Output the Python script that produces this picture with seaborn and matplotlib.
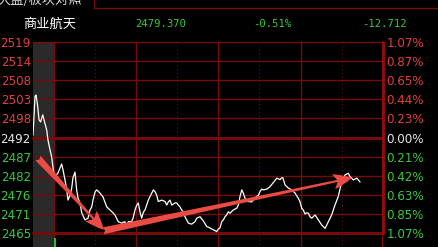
import numpy as np
import pandas as pd
import matplotlib
matplotlib.use("Agg")
import matplotlib.pyplot as plt
import seaborn as sns
from matplotlib.lines import Line2D

# ---------------- data ----------------
# minute index from 09:15 (0) ... 09:30 (15) ... 11:30/13:00 (135) ... 15:00 (255)
minutes = [0, 1.5, 2.2, 3.3, 4.4, 5.5, 7.1, 8.0, 10.0, 10.9, 12.4, 13.6, 14.8, 16.0,
           18.2, 20.9, 21.9, 23.3, 24.6, 25.5, 27.0, 28.2, 29.1, 30.6, 31.8, 32.8,
           34.2, 35.5, 37.9, 40.1, 41.5, 42.8, 43.7, 45.2, 46.4, 48.8, 51.0, 53.7,
           56.1, 58.3, 59.7, 62.1, 64.6, 67.0, 68.3, 69.4, 71.9, 72.9, 74.3, 75.6,
           76.7, 78.1, 79.2, 80.4, 81.6, 84.0, 86.5, 87.7, 88.9, 90.1, 91.3, 93.8,
           96.2, 97.4, 98.6, 99.8, 101.1, 103.5, 104.7, 105.9, 107.1, 108.3, 109.5,
           110.7, 113.2, 115.6, 118.0, 119.3, 121.7, 124.1, 126.6, 127.7, 129.0,
           131.4, 132.6, 133.8, 135.0, 136.2, 137.5, 138.7, 139.9, 141.1, 142.3,
           143.5, 145.9, 148.4, 149.6, 150.8, 152.1, 153.2, 154.5, 155.7, 156.9,
           159.3, 161.7, 163.0, 164.2, 165.4, 166.6, 167.8, 170.3, 172.7, 175.1,
           177.6, 180.0, 181.2, 182.1, 183.6, 186.0, 188.5, 190.9, 193.3, 194.5,
           195.8, 196.9, 198.2, 199.4, 200.6, 201.8, 203.1, 205.5, 207.9, 210.3,
           212.8, 215.2, 217.6, 220.0, 222.4, 224.9, 227.3, 229.7, 230.9, 233.4,
           235.9, 238.3]
prices = [2492.7, 2503.7, 2504.0, 2501.2, 2497.0, 2496.4, 2498.4, 2497.0, 2494.1,
          2491.3, 2488.5, 2486.5, 2482.8, 2480.8, 2482.0, 2484.5, 2482.8, 2480.0,
          2477.2, 2474.3, 2475.7, 2477.7, 2480.6, 2482.2, 2477.2, 2474.9, 2473.5,
          2470.7, 2468.7, 2469.2, 2471.5, 2472.4, 2474.3, 2476.6, 2477.2, 2476.3,
          2475.2, 2472.4, 2471.5, 2470.7, 2470.1, 2468.2, 2467.8, 2468.2, 2466.4,
          2468.2, 2468.2, 2469.2, 2471.5, 2472.9, 2473.5, 2470.7, 2469.2, 2470.9,
          2471.5, 2474.3, 2476.3, 2477.2, 2476.7, 2475.7, 2473.9, 2474.3, 2473.9,
          2472.9, 2473.8, 2474.3, 2472.9, 2473.5, 2473.5, 2472.9, 2472.4, 2471.5,
          2471.0, 2469.6, 2467.8, 2467.5, 2468.2, 2469.2, 2469.6, 2468.4, 2466.8,
          2466.7, 2466.4, 2465.9, 2465.7, 2465.4, 2466.1, 2466.4, 2468.2, 2468.7,
          2469.6, 2470.1, 2471.0, 2470.6, 2471.5, 2472.0, 2472.9, 2475.3, 2477.2,
          2476.3, 2474.8, 2473.9, 2473.9, 2473.8, 2474.9, 2475.3, 2475.7, 2476.7,
          2477.4, 2477.2, 2477.4, 2478.1, 2479.3, 2480.5, 2480.1, 2480.6, 2480.6,
          2478.6, 2477.7, 2477.2, 2476.3, 2474.8, 2473.9, 2472.0, 2471.5, 2470.4,
          2470.7, 2470.6, 2469.6, 2469.2, 2470.1, 2468.7, 2467.3, 2466.3, 2468.2,
          2470.1, 2472.9, 2475.3, 2479.5, 2481.4, 2481.9, 2481.0, 2480.0, 2480.5,
          2479.4]

price_labels = ["2519", "2514", "2508", "2503", "2498", "2492",
                "2487", "2482", "2476", "2471", "2465"]
pct_labels = ["1.07%", "0.87%", "0.65%", "0.44%", "0.23%", "0.00%",
              "0.21%", "0.42%", "0.63%", "0.85%", "1.07%"]
y_low, y_high = 2465, 2519

solid_times = [15, 75, 135, 195]
dotted_times = [45, 105, 165, 225]
x_end = 255

# annotation arrows (minute, price)
arrow_down = ((3.6, 2486.2), (51.5, 2465.9))
arrow_up = ((51.0, 2465.6), (232.4, 2480.6))

vol_minutes = [16.0]
vol_values = [0.97]

header_name = "商业航天"
header_last = "2479.370"
header_pct = "-0.51%"
header_chg = "-12.712"
top_tab = "大盘/板块对照"

# ---------------- style ----------------
sns.set_theme(style="dark")
plt.rcParams['font.family'] = ['DejaVu Sans']

RED_GRID = "#760b0b"
RED_TXT = "#e0413c"
GREEN_TXT = "#3cc83c"
WHITE_TXT = "#e8e8e8"
GRAY_BG = "#2a2a2a"
ARROW = "#ea4c43"

W, H = 439, 247
fig = plt.figure(figsize=(W / 100, H / 100), dpi=100, facecolor="black")

ax = fig.add_axes([33 / W, 14 / H, 350 / W, 191 / H])
ax.set_facecolor("black")
ax.set_xlim(0, x_end)
ax.set_ylim(y_low, y_high)
for s in ax.spines.values():
    s.set_visible(False)
ax.grid(False)

tick_pos = np.linspace(y_high, y_low, len(price_labels))

ax.axvspan(0, 15, color=GRAY_BG, zorder=0, lw=0)
for i, t in enumerate(tick_pos):
    lw = 2.2 if (i == len(tick_pos) // 2 or i == len(tick_pos) - 1) else 1.0
    ax.axhline(t, color=RED_GRID, lw=lw, zorder=1, clip_on=False)
for t in solid_times:
    ax.axvline(t, color=RED_GRID, lw=1.0, zorder=1)
for t in dotted_times:
    ax.axvline(t, color=RED_GRID, lw=0.8, ls=(0, (1, 2.5)), zorder=1)
ax.axvline(x_end, color="#9a0c0c", lw=2.0, zorder=3, clip_on=False)

df = pd.DataFrame({"minute": minutes, "price": prices})
sns.lineplot(data=df, x="minute", y="price", ax=ax, color="white", lw=0.9,
             estimator=None, sort=False, zorder=4)

for (start, end) in (arrow_down, arrow_up):
    ax.annotate("", xy=end, xytext=start,
                arrowprops=dict(arrowstyle="fancy,head_length=1.35,head_width=1.1,tail_width=0.5",
                                color=ARROW, mutation_scale=10, shrinkA=0, shrinkB=0, lw=0),
                zorder=5)

def lab_color(i):
    n = len(tick_pos) // 2
    return RED_TXT if i < n else (WHITE_TXT if i == n else GREEN_TXT)

ax.set_yticks(tick_pos)
ax.set_yticklabels(price_labels, fontsize=8.6)
ax.set_xticks([])
ax.set_xlabel("")
ax.set_ylabel("")
ax.tick_params(axis="y", length=0, pad=1.5)
for i, tl in enumerate(ax.get_yticklabels()):
    tl.set_color(lab_color(i))

ax2 = ax.twinx()
ax2.set_ylim(y_low, y_high)
ax2.set_yticks(tick_pos)
ax2.set_yticklabels(pct_labels, fontsize=8.6)
ax2.tick_params(axis="y", length=0, pad=2.5)
for s in ax2.spines.values():
    s.set_visible(False)
ax2.grid(False)
for i, tl in enumerate(ax2.get_yticklabels()):
    tl.set_color(lab_color(i))

# volume panel (mostly cut off below)
axv = fig.add_axes([33 / W, -0.3, 350 / W, 0.3 + 12 / H])
axv.set_facecolor("black")
axv.set_xlim(0, x_end)
axv.set_ylim(0, 1)
for s in axv.spines.values():
    s.set_visible(False)
axv.grid(False)
axv.set_xticks([]); axv.set_yticks([])
axv.axvspan(0, 15, color=GRAY_BG, zorder=0, lw=0)
for t in solid_times:
    axv.axvline(t, color=RED_GRID, lw=1.0, zorder=1)
for t in dotted_times:
    axv.axvline(t, color=RED_GRID, lw=0.8, ls=(0, (1, 2.5)), zorder=1)
axv.axvline(x_end, color="#9a0c0c", lw=2.0, zorder=3)
axv.bar(vol_minutes, vol_values, width=0.9, color="#1ec81e", edgecolor="none",
        linewidth=0, zorder=2)

# header
cjk = ['Noto Sans CJK SC', 'DejaVu Sans']
fig.text(23 / W, 1 - 24 / H, header_name, color="white", fontsize=9.5,
         family=cjk, va="center", ha="left")
mono = ['DejaVu Sans Mono']
fig.text(135 / W, 1 - 24 / H, header_last, color=GREEN_TXT, fontsize=7.6,
         family=mono, va="center", ha="left")
fig.text(253 / W, 1 - 24 / H, header_pct, color=GREEN_TXT, fontsize=7.6,
         family=mono, va="center", ha="left")
fig.text(362 / W, 1 - 24 / H, header_chg, color=GREEN_TXT, fontsize=7.6,
         family=mono, va="center", ha="left")
fig.text(-3 / W, 1 - 0 / H, top_tab, color="#d8d8d8", fontsize=9.5,
         family=cjk, va="center", ha="left")
fig.add_artist(Line2D([94 / W, 1], [1 - 8 / H, 1 - 8 / H], color=RED_GRID, lw=1.0))
fig.add_artist(Line2D([94 / W, 94 / W], [1, 1 - 8 / H], color=RED_GRID, lw=1.0))

fig.savefig("out.png", dpi=100, facecolor="black")
